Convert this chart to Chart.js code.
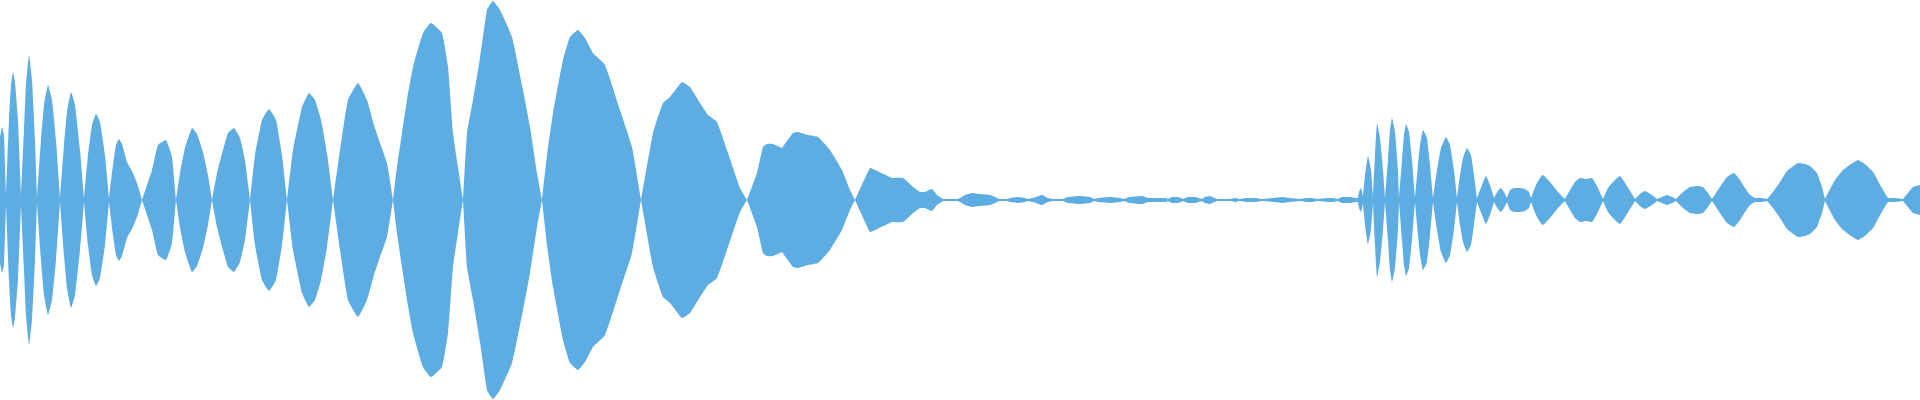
<!DOCTYPE html>
<html>
<head>
<meta charset="utf-8">
<script src="https://cdn.jsdelivr.net/npm/chart.js@4"></script>
<style>
  html, body { margin: 0; padding: 0; background: #ffffff; }
  #wrap { width: 1920px; height: 400px; position: relative; }
</style>
</head>
<body>
<div id="wrap"><canvas id="wave"></canvas></div>
<script>
// waveform envelope, [sample position, peak amplitude] (full scale = 200)
const firstBurst = [
  [0, 63], [2, 73], [4, 65], [6, 5],
  [9, 80], [11, 115], [13, 128], [15, 118], [18, 80], [21, 5],
  [24, 70], [26, 115], [29, 145], [32, 120], [35, 60], [37, 3],
  [41, 60], [44, 95], [48, 115], [52, 100], [56, 60], [60, 2],
  [64, 55], [67, 88], [71, 108], [75, 95], [80, 50], [84, 2],
  [88, 45], [92, 75], [96, 86], [100, 78], [105, 45], [109, 2],
  [113, 35], [116, 55], [119, 61], [122, 56], [127, 38], [133, 27], [138, 14], [142, 0]
];

const firstSwell = [
  [152, 30], [158, 55], [166, 60], [172, 43], [176, 0],
  [180, 27], [185, 52], [192, 72], [197, 66], [203, 48], [208, 25], [212, 0],
  [217, 27], [223, 50], [228, 67], [234, 72], [240, 62], [245, 40], [250, 0],
  [255, 45], [262, 80], [269, 91], [276, 80], [282, 45], [287, 0],
  [293, 50], [302, 93], [309, 107], [315, 100], [321, 80], [327, 47], [333, 0],
  [340, 50], [348, 100], [358, 117], [367, 100], [374, 75], [380, 57], [387, 37], [393, 0],
  [397, 33], [402, 67], [407, 100], [413, 133], [423, 167], [431, 177], [442, 167], [448, 133], [453, 67], [458, 33], [463, 0],
  [467, 67], [473, 100], [480, 142], [487, 190], [493, 199], [500, 190], [512, 163], [523, 110], [530, 73], [537, 27], [542, 0],
  [547, 45], [553, 87], [563, 140], [570, 163], [578, 170], [585, 162], [593, 147], [605, 135], [620, 90], [632, 53], [641, 0],
  [653, 67], [663, 97], [670, 103], [682, 118], [690, 113], [700, 97], [708, 85], [717, 78], [727, 50], [740, 12], [747, 0],
  [757, 27], [763, 53], [767, 56], [773, 56], [782, 52], [793, 67], [798, 68], [808, 65], [818, 63], [830, 50], [842, 30], [850, 10], [855, 0],
  [870, 32], [875, 30], [892, 22], [903, 22], [913, 13], [920, 8], [925, 8], [932, 11], [937, 5], [943, 1]
];

const quiet = [
  [950, 1], [958, 1], [962, 3], [965, 5], [972, 7], [980, 6], [990, 5], [995, 3], [999, 1],
  [1007, 1], [1010, 2], [1018, 3], [1025, 2], [1028, 1], [1033, 2], [1042, 5], [1048, 2], [1052, 1],
  [1063, 1], [1068, 3], [1080, 4], [1090, 3], [1094, 1], [1098, 2], [1110, 3], [1120, 2], [1124, 1],
  [1130, 3], [1142, 4], [1148, 2], [1158, 2], [1166, 2], [1168, 1], [1172, 3], [1178, 3], [1183, 1],
  [1188, 3], [1195, 3], [1202, 1], [1205, 3], [1210, 4], [1217, 1], [1230, 1], [1235, 2], [1240, 1],
  [1246, 2], [1255, 2], [1262, 1], [1273, 2], [1282, 3], [1290, 2], [1300, 1], [1306, 2], [1312, 2],
  [1317, 1], [1328, 2], [1333, 2], [1338, 1], [1342, 3], [1350, 3], [1357, 2]
];

const secondBurst = [
  [1358, 2], [1359, 8], [1361, 12], [1363, 4],
  [1365, 25], [1368, 44], [1371, 30], [1373, 3],
  [1375, 45], [1377, 77], [1380, 62], [1383, 30], [1385, 2],
  [1388, 40], [1390, 70], [1392, 82], [1395, 68], [1398, 30], [1399, 2],
  [1402, 40], [1404, 65], [1406, 76], [1409, 68], [1412, 40], [1415, 2],
  [1418, 35], [1420, 55], [1423, 70], [1427, 62], [1430, 35], [1433, 2],
  [1437, 30], [1441, 52], [1446, 63], [1450, 55], [1454, 30], [1457, 2],
  [1460, 25], [1463, 42], [1467, 52], [1471, 45], [1474, 25], [1477, 2],
  [1482, 15], [1486, 24], [1490, 15], [1494, 2]
];

const secondTail = [
  [1498, 9], [1501, 12], [1504, 8], [1507, 2],
  [1510, 10], [1515, 12], [1520, 12], [1525, 11], [1529, 8], [1531, 2],
  [1536, 15], [1540, 22], [1543, 25], [1550, 18], [1558, 8], [1565, 1],
  [1570, 10], [1575, 18], [1580, 22], [1586, 21], [1592, 22], [1597, 14], [1603, 1],
  [1608, 12], [1614, 19], [1620, 24], [1627, 14], [1635, 1],
  [1640, 6], [1645, 9], [1652, 5], [1657, 1],
  [1662, 3], [1667, 5], [1672, 3], [1676, 1],
  [1683, 8], [1690, 13], [1697, 14], [1703, 13], [1708, 7], [1712, 1],
  [1720, 13], [1727, 23], [1734, 27], [1740, 20], [1745, 12], [1750, 5], [1755, 2], [1762, 2], [1767, 1],
  [1773, 8], [1780, 18], [1787, 29], [1798, 37], [1805, 36], [1810, 34], [1817, 27], [1822, 13], [1825, 1],
  [1835, 20], [1843, 30], [1858, 40], [1866, 35], [1873, 28], [1883, 10], [1888, 2],
  [1895, 2], [1903, 1], [1913, 13], [1920, 15]
];

const waveColor = "#5DADE2";

const envelope = [].concat(firstBurst, firstSwell, quiet, secondBurst, secondTail);


// repeat each node (local minimum) so the smoothed curve keeps a sharp pinch there
function withNodes(points, sign) {

    const out = [];

    points.forEach((p, i) => {

        const prev = points[i - 1];
        const next = points[i + 1];

        out.push({ x: p[0], y: sign * p[1] });

        if (prev && next && p[1] <= prev[1] && p[1] <= next[1]) {
            out.push({ x: p[0], y: sign * p[1] });
        }

    });

    return out;

}


function dataset(points) {

    return {
        data: points,
        borderWidth: 0,
        pointRadius: 0,
        tension: 0.12,
        fill: "origin",
        backgroundColor: waveColor
    };

}


new Chart(
    document.getElementById("wave"),
    {
        type: "line",
        data: {
            datasets: [
                dataset(withNodes(envelope, 1)),
                dataset(withNodes(envelope, -1))
            ]
        },
        options: {
            responsive: true,
            maintainAspectRatio: false,
            animation: false,
            layout: { padding: 0 },
            scales: {
                x: { type: "linear", min: 0, max: 1920, display: false },
                y: { min: -200, max: 200, display: false }
            },
            plugins: {
                legend: { display: false },
                tooltip: { enabled: false }
            }
        }
    }
);
</script>
</body>
</html>
